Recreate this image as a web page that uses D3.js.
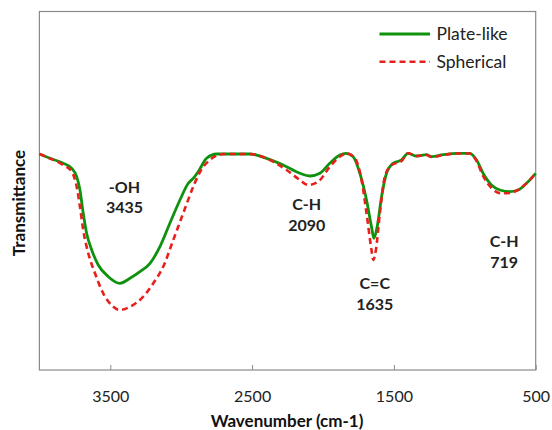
<html>
<head>
<meta charset="utf-8">
<title>FTIR spectra</title>
<script src="https://cdn.jsdelivr.net/npm/d3@7"></script>
<style>
  body { margin: 0; background: #fff; }
  svg { display: block; font-family: Lato, "Open Sans", sans-serif; }
</style>
</head>
<body>
<div id="chart"></div>
<script>
// wavenumber (cm-1) and transmittance (arbitrary %)
var plateWn = [4000, 3925, 3832, 3772, 3737, 3714, 3691, 3667, 3631, 3585, 3514, 3432, 3361, 3291, 3220, 3150, 3080, 3009, 2950, 2915, 2880, 2821, 2750, 2515, 2398, 2281, 2163, 2093, 2022, 1952, 1881, 1839, 1787, 1740, 1693, 1658, 1641, 1618, 1587, 1552, 1505, 1446, 1400, 1340, 1270, 1235, 1153, 1047, 965, 917, 871, 812, 753, 683, 624, 556, 500];
var plateT = [60.25, 59.05, 57.66, 56.26, 53.92, 50.21, 43.71, 38.13, 33.47, 29.29, 26.03, 24.18, 25.58, 27.42, 29.76, 34.39, 40.92, 47.42, 52.08, 53.47, 55.31, 59.05, 60.25, 60.25, 59.05, 57.18, 54.87, 54.11, 54.87, 57.66, 59.97, 60.45, 59.50, 54.87, 47.42, 39.97, 36.74, 39.97, 48.34, 54.87, 57.66, 58.58, 60.45, 59.69, 60.06, 59.50, 60.06, 60.45, 60.45, 58.58, 54.87, 51.60, 50.21, 49.74, 50.21, 52.44, 54.87];

var spherWn = [4000, 3925, 3832, 3772, 3737, 3714, 3691, 3655, 3608, 3550, 3479, 3432, 3361, 3268, 3197, 3127, 3056, 2986, 2915, 2868, 2798, 2704, 2515, 2373, 2257, 2163, 2105, 2034, 1952, 1881, 1834, 1775, 1728, 1693, 1658, 1646, 1627, 1599, 1564, 1517, 1446, 1400, 1340, 1270, 1235, 1153, 1047, 965, 917, 871, 812, 742, 683, 624, 556, 500];
var spherT = [60.25, 59.0, 57.18, 55.31, 51.13, 45.55, 39.05, 32.55, 26.97, 21.39, 17.66, 16.74, 17.66, 20.45, 24.18, 28.81, 36.26, 43.71, 51.13, 55.23, 58.58, 60.25, 60.25, 58.58, 55.79, 53.00, 51.60, 52.52, 56.71, 59.50, 60.45, 59.05, 53.00, 43.71, 33.47, 30.68, 33.47, 43.71, 53.92, 57.18, 58.30, 60.45, 59.69, 59.97, 59.41, 59.97, 60.39, 60.39, 58.30, 54.11, 50.77, 49.29, 49.37, 50.21, 52.44, 54.87];

var seriesNames = ["Plate-like", "Spherical"];
var xTicks = [3500, 2500, 1500, 500];

// band labels: two lines, placed at wavenumber / transmittance
var bandNames = ["-OH", "C-H", "C=C", "C-H"];
var bandWn = [3435, 2090, 1635, 719];
var bandLabelWn = [3400, 2115, 1635, 722];
var bandLabelT = [49.5, 44.6, 22.5, 34.2];

function drawChart() {
  var W = 552, H = 430;
  var mLeft = 39.4, mRight = 535.7, mTop = 11.5, mBottom = 370;

  var svg = d3.select("#chart").append("svg")
      .attr("width", W)
      .attr("height", H);

  svg.append("rect").attr("width", W).attr("height", H).attr("fill", "#fff");

  var x = d3.scaleLinear().domain([4000, 500]).range([mLeft, mRight]);
  var y = d3.scaleLinear().domain([0, 100]).range([mBottom, mTop]);

  // plot frame
  svg.append("rect")
      .attr("x", mLeft).attr("y", mTop)
      .attr("width", mRight - mLeft).attr("height", mBottom - mTop)
      .attr("fill", "none")
      .attr("stroke", "#8a8a8a")
      .attr("stroke-width", 1.2);

  // x axis with inward ticks
  var xAxis = svg.append("g")
      .attr("transform", "translate(0," + mBottom + ")")
      .call(d3.axisBottom(x).tickValues(xTicks).tickFormat(d3.format("d"))
          .tickSizeInner(-5).tickSizeOuter(0).tickPadding(21));
  xAxis.select(".domain").remove();
  xAxis.selectAll(".tick line").attr("stroke", "#8a8a8a");
  xAxis.selectAll(".tick text")
      .attr("font-family", "Lato, sans-serif")
      .attr("font-size", 16)
      .attr("fill", "#222");

  // axis titles
  svg.append("text")
      .attr("x", 287).attr("y", 427)
      .attr("text-anchor", "middle")
      .attr("font-weight", "bold")
      .attr("font-size", 17)
      .attr("fill", "#111")
      .text("Wavenumber (cm-1)");

  svg.append("text")
      .attr("transform", "translate(25,203) rotate(-90)")
      .attr("text-anchor", "middle")
      .attr("font-weight", "bold")
      .attr("font-size", 17)
      .attr("fill", "#111")
      .text("Transmittance");

  // curves
  var line = d3.line()
      .x(function(d) { return x(d[0]); })
      .y(function(d) { return y(d[1]); })
      .curve(d3.curveMonotoneX);

  svg.append("path")
      .datum(d3.zip(plateWn, plateT))
      .attr("d", line)
      .attr("fill", "none")
      .attr("stroke", "#0e920e")
      .attr("stroke-width", 2.8)
      .attr("stroke-linejoin", "round");

  svg.append("path")
      .datum(d3.zip(spherWn, spherT))
      .attr("d", line)
      .attr("fill", "none")
      .attr("stroke", "#e8201c")
      .attr("stroke-width", 2.6)
      .attr("stroke-dasharray", "6,4");

  // band annotations
  var bands = svg.append("g")
      .attr("font-weight", "bold")
      .attr("font-size", 16)
      .attr("fill", "#222")
      .attr("text-anchor", "middle");

  bandNames.forEach(function(name, i) {
    var t = bands.append("text")
        .attr("x", x(bandLabelWn[i]))
        .attr("y", y(bandLabelT[i]));
    t.append("tspan").attr("x", x(bandLabelWn[i])).text(name);
    t.append("tspan").attr("x", x(bandLabelWn[i])).attr("dy", 20.5).text(bandWn[i]);
  });

  // legend
  var legend = svg.append("g");
  var legendColors = ["#0e920e", "#e8201c"];
  var legendDash = [null, "6,4"];
  seriesNames.forEach(function(name, i) {
    var ly = 34 + i * 27.7;
    legend.append("line")
        .attr("x1", 379.5).attr("x2", 430)
        .attr("y1", ly).attr("y2", ly)
        .attr("stroke", legendColors[i])
        .attr("stroke-width", i == 0 ? 2.8 : 2.6)
        .attr("stroke-dasharray", legendDash[i]);
    legend.append("text")
        .attr("x", 436.5).attr("y", ly + 6)
        .attr("font-size", 17.5)
        .attr("fill", "#222")
        .text(name);
  });
}

drawChart();
</script>
</body>
</html>
